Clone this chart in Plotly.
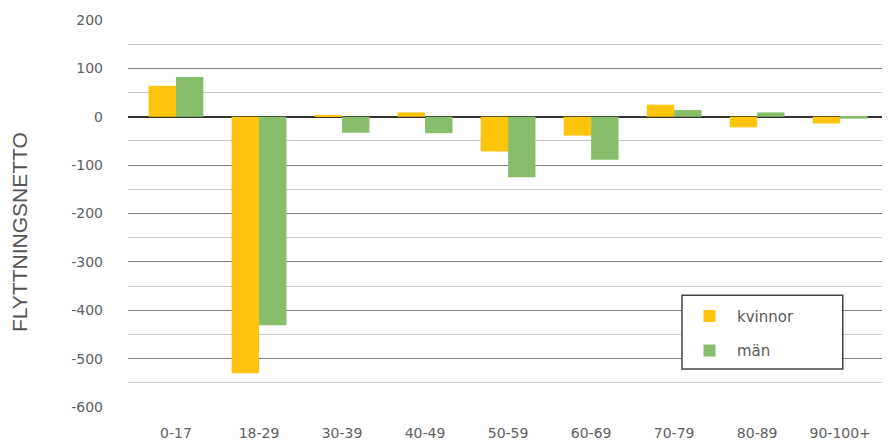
import plotly.graph_objects as go

categories = ["0-17", "18-29", "30-39", "40-49", "50-59", "60-69", "70-79", "80-89", "90-100+"]
kvinnor = [64, -530, 2, 9, -72, -39, 25, -22, -14]
man = [82, -431, -33, -34, -125, -89, 14, 9, -4]
y_ticks = [200, 100, 0, -100, -200, -300, -400, -500, -600]
y_ticktext = ["200", "100", "0", "-100", "-200", "-300", "-400", "-500", "-600"]
y_title = "FLYTTNINGSNETTO"

fig = go.Figure()
fig.add_trace(go.Bar(x=categories, y=kvinnor, name="kvinnor", marker_color="#FDC40A",
                     marker_line_width=0, legendgroup="a"))
fig.add_trace(go.Bar(x=categories, y=man, name="män", marker_color="#88BE6B",
                     marker_line_width=0, legendgroup="b"))

fig.update_layout(
    width=882, height=433,
    margin=dict(l=120, r=0, t=12, b=34, autoexpand=False),
    paper_bgcolor="white", plot_bgcolor="white",
    barmode="group", bargap=0.34, bargroupgap=0,
    font=dict(family="DejaVu Sans, Liberation Sans, sans-serif", color="#555555"),
    showlegend=True,
    legend=dict(x=0.727, y=0.277, xanchor="left", yanchor="top",
                bgcolor="rgba(0,0,0,0)", borderwidth=0,
                font=dict(size=15, color="#5a5a5a"), itemwidth=45,
                tracegroupgap=12, traceorder="grouped"),
    shapes=[dict(type="rect", xref="paper", yref="paper",
                 x0=0.727, x1=0.938, y0=0.098, y1=0.289, layer="above",
                 fillcolor="white", line=dict(color="#444444", width=1.5))],
    annotations=[dict(text=y_title, xref="paper", yref="paper", x=-0.143, y=0.452,
                      xanchor="center", yanchor="middle", textangle=-90, showarrow=False,
                      font=dict(family="Liberation Sans, Arial, sans-serif", size=21,
                                color="#555555"))],
)
fig.update_xaxes(
    type="category", range=[-0.578, 8.60], showgrid=False, showline=False,
    ticks="", tickfont=dict(size=14, color="#606060"), ticklabelstandoff=16,
)
fig.update_yaxes(
    range=[-600, 200], tickvals=y_ticks, ticktext=y_ticktext,
    showgrid=True, gridcolor="#808080", gridwidth=1,
    zeroline=True, zerolinecolor="#333333", zerolinewidth=1.5,
    minor=dict(dtick=50, showgrid=True, gridcolor="#cccccc", gridwidth=1),
    tickfont=dict(size=14, color="#606060"), ticklabelstandoff=24,
)
fig.write_html("out.html")
